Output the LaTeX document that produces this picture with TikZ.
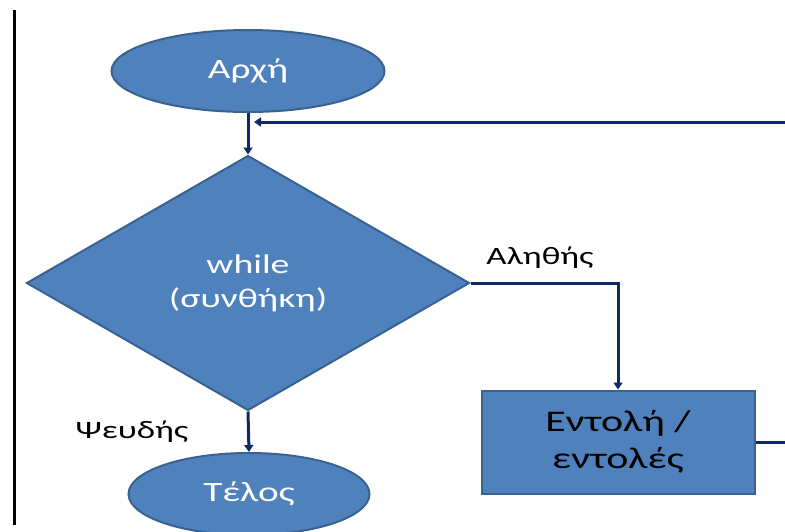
\documentclass[tikz,border=0pt]{standalone}
\usepackage{fontspec}
\setmainfont[FakeStretch=1.4]{Carlito}
\usetikzlibrary{shapes.geometric,arrows.meta}
\definecolor{boxfill}{HTML}{4F81BD}
\definecolor{boxedge}{HTML}{3A6290}
\definecolor{flowline}{HTML}{0E2A66}
\tikzset{
  term/.style={ellipse, fill=boxfill, draw=boxedge, line width=2pt, text=white, font=\fontsize{28}{30}\selectfont, inner sep=0pt},
  decision/.style={diamond, fill=boxfill, draw=boxedge, line width=2pt, text=white, font=\fontsize{27}{34}\selectfont, align=center, inner sep=0pt, minimum width=443pt, minimum height=255pt},
  process/.style={rectangle, fill=boxfill, draw=boxedge, line width=2pt, text=black, font=\fontsize{30}{37}\selectfont, align=center, inner sep=0pt, minimum width=273pt, minimum height=103pt},
  flow/.style={draw=flowline, line width=3pt, -{Triangle[width=9pt,length=7pt]}},
  lbl/.style={text=black, font=\fontsize{25}{28}\selectfont, inner sep=0pt}
}
\begin{document}
\begin{tikzpicture}[x=1pt,y=-1pt]
\useasboundingbox (0,0) rectangle (785,531);
\clip (0,0) rectangle (785,531);
\draw[black, line width=3pt] (14,10) -- (14,525);
\node[term, minimum width=273pt, minimum height=82pt] (start) at (248,71) {Αρχή};
\node[decision] (cond) at (248,283) {while\\(συνθήκη)};
\node[process] (body) at (618,442) {Εντολή /\\εντολές};
\node[term, minimum width=241pt, minimum height=82pt] (end) at (249,494) {Τέλος};
\node[lbl] (true) at (540,258) {Αληθής};
\node[lbl] (false) at (132,432) {Ψευδής};
\coordinate (loopin) at (254,122);
\draw[flow] (start.south) -- (cond.north);
\draw[flow] (cond.east) -| (body.north);
\draw[flow] (cond.south) -- (end.north);
\draw[flow] (body.east) -- (810,442) |- (loopin);
\end{tikzpicture}
\end{document}
